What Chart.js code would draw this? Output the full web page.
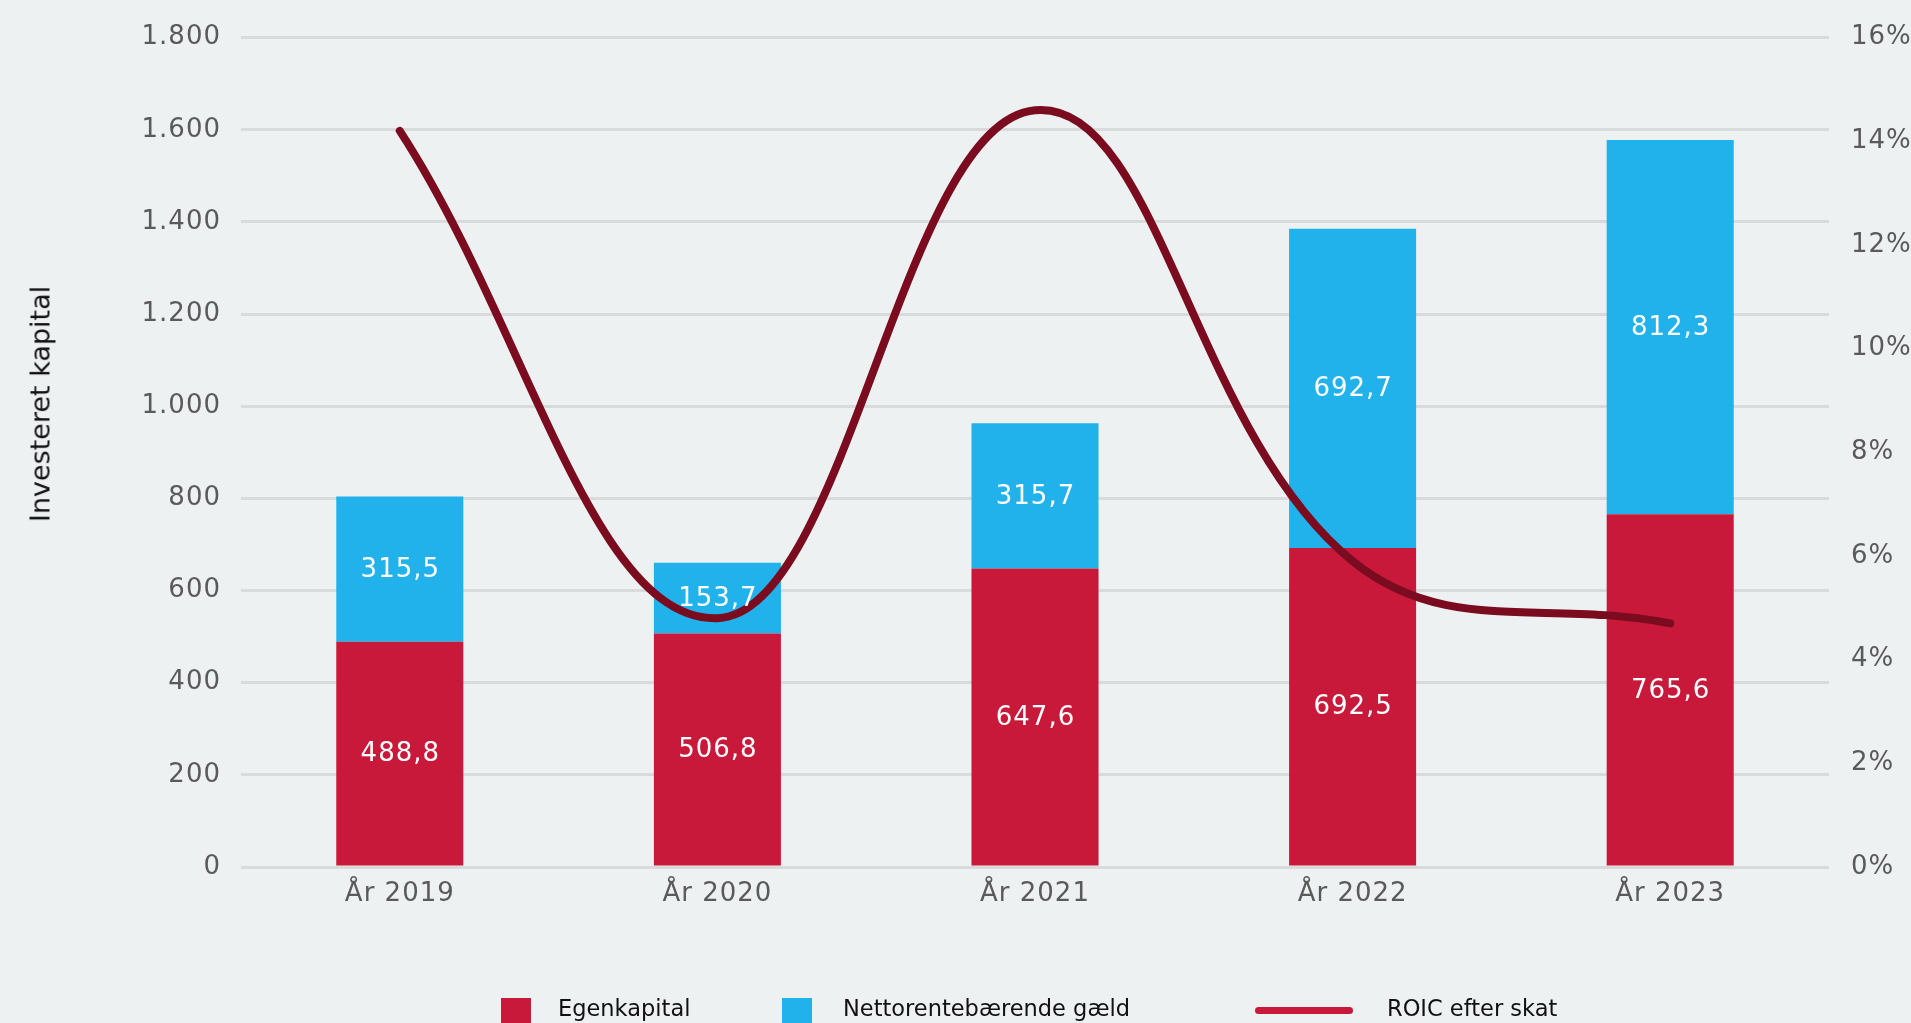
<!DOCTYPE html>
<html>
<head>
<meta charset="utf-8">
<script src="https://cdn.jsdelivr.net/npm/chart.js@4"></script>
<style>
  html, body { margin: 0; padding: 0; background: #eef1f2; width: 1911px; height: 1023px; overflow: hidden; }
  #wrap { position: relative; width: 1911px; height: 1023px; }
  canvas { position: absolute; left: 0; top: 0; }
  .ytitle { position: absolute; left: 40px; top: 404px; transform: translate(-50%, -50%) rotate(-90deg);
    font-family: "DejaVu Sans", sans-serif; font-size: 27px; color: #111; white-space: nowrap; line-height: 1; }
  .lg { position: absolute; font-family: "DejaVu Sans", sans-serif; font-size: 22.5px; line-height: 22.5px; color: #111; white-space: nowrap; }
  .sw { position: absolute; }
</style>
</head>
<body>
<div id="wrap">
  <canvas id="c" width="1911" height="1023"></canvas>
  <div class="ytitle">Investeret kapital</div>
  <div id="legend"></div>
</div>
<script>
const categories = ['År 2019', 'År 2020', 'År 2021', 'År 2022', 'År 2023'];
const egenkapital = [488.8, 506.8, 647.6, 692.5, 765.6];
const nettogaeld = [315.5, 153.7, 315.7, 692.7, 812.3];
const roic = [14.2, 4.8, 14.6, 5.9, 4.7];
const seriesNames = ['Egenkapital', 'Nettorentebærende gæld', 'ROIC efter skat'];

const RED = '#c8193a', BLUE = '#21b2ec', DARK = '#7b0b1f';
const tickFont = { family: 'DejaVu Sans', size: 26 };
const tickColor = '#5a5a5a';

const fmtComma = v => v.toFixed(1).replace('.', ',');
const fmtThousands = v => String(v).replace(/\B(?=(\d{3})+(?!\d))/g, '.');

const spacingPlugin = {
  id: 'spacing',
  beforeDraw(chart) { chart.ctx.letterSpacing = '1px'; }
};

const labelPlugin = {
  id: 'barLabels',
  afterDatasetsDraw(chart) {
    const ctx = chart.ctx;
    ctx.save();
    ctx.letterSpacing = '1px';
    ctx.fillStyle = '#ffffff';
    ctx.font = '26px "DejaVu Sans"';
    ctx.textAlign = 'center';
    ctx.textBaseline = 'middle';
    [1, 2].forEach(i => {
      const meta = chart.getDatasetMeta(i);
      const vals = chart.data.datasets[i].data;
      meta.data.forEach((el, j) => {
        const p = el.getProps(['x', 'y', 'base'], true);
        ctx.fillText(fmtComma(vals[j]), p.x + 0.5, (p.y + p.base) / 2 + 1);
      });
    });
    ctx.restore();
  }
};

new Chart(document.getElementById('c'), {
  type: 'bar',
  data: {
    labels: categories,
    datasets: [
      { type: 'line', label: seriesNames[2], data: roic, yAxisID: 'y1', borderColor: DARK, backgroundColor: DARK,
        borderWidth: 8, tension: 0.4, pointRadius: 0, borderCapStyle: 'round', borderJoinStyle: 'round', fill: false, order: 0 },
      { label: seriesNames[0], data: egenkapital, backgroundColor: RED, yAxisID: 'y', stack: 's', order: 1 },
      { label: seriesNames[1], data: nettogaeld, backgroundColor: BLUE, yAxisID: 'y', stack: 's', order: 1 }
    ]
  },
  options: {
    responsive: false,
    animation: false,
    devicePixelRatio: 1,
    layout: { padding: { left: 0, right: 0, top: 35, bottom: 0 } },
    datasets: { bar: { barPercentage: 0.4, categoryPercentage: 1.0 } },
    plugins: { legend: { display: false }, tooltip: { enabled: false }, title: { display: false } },
    scales: {
      x: {
        stacked: true,
        grid: { display: false },
        border: { display: false },
        ticks: { font: tickFont, color: tickColor, padding: 4, maxRotation: 0 },
        afterFit(s) { s.height = 156; }
      },
      y: {
        stacked: true, position: 'left', min: 0, max: 1800,
        grid: { color: '#d9dadb', lineWidth: 3, drawTicks: false },
        border: { display: false },
        ticks: { stepSize: 200, font: tickFont, color: tickColor, padding: 20, callback: v => fmtThousands(v) },
        afterFit(s) { s.width = 241; }
      },
      y1: {
        position: 'right', min: 0, max: 16,
        grid: { drawOnChartArea: false, drawTicks: false },
        border: { display: false },
        ticks: { stepSize: 2, font: tickFont, color: tickColor, padding: 22, callback: v => v + '%' },
        afterFit(s) { s.width = 82; }
      }
    }
  },
  plugins: [spacingPlugin, labelPlugin]
});

// HTML legend
const legend = document.getElementById('legend');
const items = [
  { kind: 'box', color: RED, x: 501, tx: 558, name: seriesNames[0] },
  { kind: 'box', color: BLUE, x: 782, tx: 843, name: seriesNames[1] },
  { kind: 'line', color: RED, x: 1255, tx: 1387, name: seriesNames[2] }
];
items.forEach(it => {
  const sw = document.createElement('div');
  sw.className = 'sw';
  sw.style.background = it.color;
  if (it.kind === 'box') {
    sw.style.left = it.x + 'px'; sw.style.top = '998px'; sw.style.width = '30px'; sw.style.height = '30px';
  } else {
    sw.style.left = it.x + 'px'; sw.style.top = '1006.5px'; sw.style.width = '98px'; sw.style.height = '7px';
    sw.style.borderRadius = '3.5px';
  }
  legend.appendChild(sw);
  const t = document.createElement('div');
  t.className = 'lg';
  t.style.left = it.tx + 'px';
  t.style.top = '996.5px';
  t.textContent = it.name;
  legend.appendChild(t);
});
</script>
</body>
</html>
